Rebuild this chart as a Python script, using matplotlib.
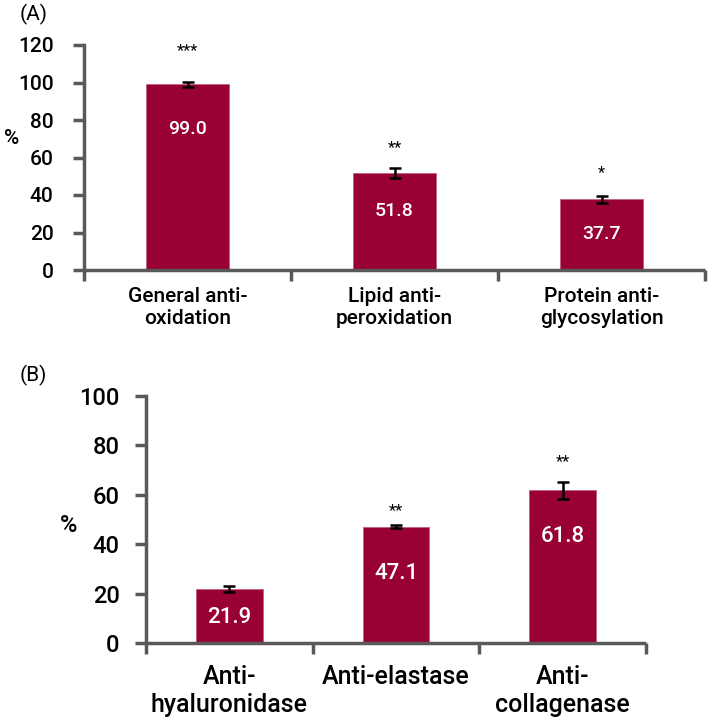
import matplotlib
matplotlib.use("Agg")
import matplotlib.pyplot as plt
import numpy as np

plt.rcParams['font.family'] = ['Roboto', 'DejaVu Sans']
plt.rcParams['font.weight'] = 'medium'

# ---- data ----
cats_a = ["General anti-\noxidation", "Lipid anti-\nperoxidation", "Protein anti-\nglycosylation"]
vals_a = [99.0, 51.8, 37.7]
errs_a = [1.2, 2.5, 1.7]
stars_a = ["***", "**", "*"]
star_y_a = [117, 65.5, 52]
lab_y_a = [75, 31.5, 19]

cats_b = ["Anti-\nhyaluronidase", "Anti-elastase", "Anti-\ncollagenase"]
vals_b = [21.9, 47.1, 61.8]
errs_b = [1.2, 0.5, 3.3]
stars_b = ["", "**", "**"]
star_y_b = [0, 53.5, 73.5]
lab_y_b = [10.5, 28.3, 43]

bar_color = "#990033"
axis_color = "#595959"

fig = plt.figure(figsize=(7.09, 7.24), dpi=100)


def panel(rect, cats, vals, errs, stars, star_y, lab_y, ymax, tick_fs, cat_fs, val_fs,
          star_fs, ylabpad, catpad):
    ax = fig.add_axes(rect)
    x = np.arange(len(cats))
    ax.bar(x, vals, width=0.4, color=bar_color, edgecolor="#c0607f", linewidth=0.6, zorder=2)
    ax.errorbar(x, vals, yerr=errs, fmt="none", ecolor="black", elinewidth=1.8,
                capsize=4, capthick=1.8, zorder=3)
    for xi, v, ly in zip(x, vals, lab_y):
        ax.text(xi, ly, f"{v:.1f}", ha="center", va="center", color="white", fontsize=val_fs)
    for xi, s, sy in zip(x, stars, star_y):
        if s:
            ax.text(xi, sy, s, ha="center", va="center", color="black", fontsize=star_fs,
                    fontweight="normal")
    ax.set_xlim(-0.5, len(cats) - 0.5)
    ax.set_ylim(0, ymax)
    ax.set_yticks(np.arange(0, ymax + 1, 20))
    ax.tick_params(axis="y", direction="out", length=8, width=2.5, color=axis_color,
                   labelsize=tick_fs, pad=ylabpad)
    ax.set_xticks(np.arange(len(cats) + 1) - 0.5)
    ax.set_xticklabels([])
    ax.tick_params(axis="x", which="major", direction="out", length=8, width=2.5, color=axis_color)
    ax.set_xticks(x, minor=True)
    ax.set_xticklabels(cats, minor=True, fontsize=cat_fs)
    ax.tick_params(axis="x", which="minor", length=0, pad=catpad)
    for sp in ["top", "right"]:
        ax.spines[sp].set_visible(False)
    for sp in ["left", "bottom"]:
        ax.spines[sp].set_color(axis_color)
        ax.spines[sp].set_linewidth(2.5)
    ax.spines["bottom"].set_capstyle("butt")
    return ax


axA = panel([84 / 709, 1 - 270 / 724, (705 - 84) / 709, (270 - 45) / 724],
            cats_a, vals_a, errs_a, stars_a, star_y_a, lab_y_a, 120,
            15, 15, 14, 12, 14, 12)
axB = panel([146 / 709, 1 - 643 / 724, (646 - 146) / 709, (643 - 396) / 724],
            cats_b, vals_b, errs_b, stars_b, star_y_b, lab_y_b, 100,
            17, 18, 16, 12, 11, 16)

fig.text(4 / 709, 1 - 139 / 724, "%", fontsize=15, ha="left", va="center")
fig.text(60 / 709, 1 - 525 / 724, "%", fontsize=17, ha="left", va="center")
fig.text(20 / 709, 1 - 14 / 724, "(A)", fontsize=15, ha="left", va="center", fontweight="normal")
fig.text(20 / 709, 1 - 375 / 724, "(B)", fontsize=15, ha="left", va="center", fontweight="normal")

fig.savefig("out.png", dpi=100)
